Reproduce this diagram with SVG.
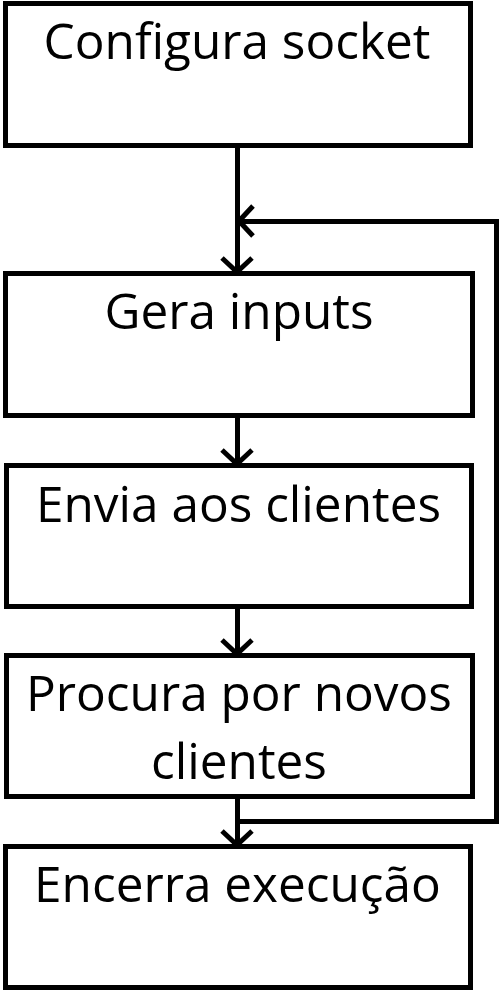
<svg xmlns="http://www.w3.org/2000/svg" width="499" height="992" viewBox="0 0 499 992">
<style>
.box{fill:#fff;stroke:#000;stroke-width:5;shape-rendering:crispEdges}
.lbl{font-family:"Open Sans","Noto Sans",sans-serif;font-size:49.5px;fill:#000;text-anchor:middle}
.edge{fill:none;stroke:#000;stroke-width:5;shape-rendering:crispEdges}
</style>
<defs>
<marker id="arr" viewBox="0 0 20 34" refX="18" refY="17" markerWidth="20" markerHeight="34" markerUnits="userSpaceOnUse" orient="auto">
<path d="M3,2 L17,17 L3,32" fill="none" stroke="#000" stroke-width="5"/>
</marker>
</defs>
<rect width="499" height="992" fill="#fff"/>
<g id="connectors">
<path class="edge" d="M237,145 V273" marker-end="url(#arr)"/>
<path class="edge" d="M237,415 V465" marker-end="url(#arr)"/>
<path class="edge" d="M237,606 V655" marker-end="url(#arr)"/>
<path class="edge" d="M237,796 V846" marker-end="url(#arr)"/>
<path class="edge" d="M237,821 H496 V221 H238" marker-end="url(#arr)"/>
</g>
<g id="n1"><rect class="box" x="5" y="3" width="465" height="142"/><text class="lbl" x="237" y="59">Configura socket</text></g>
<g id="n2"><rect class="box" x="5" y="273" width="467" height="142"/><text class="lbl" x="239" y="329">Gera inputs</text></g>
<g id="n3"><rect class="box" x="6" y="465" width="465" height="141"/><text class="lbl" x="238.5" y="522">Envia aos clientes</text></g>
<g id="n4"><rect class="box" x="6" y="655" width="466" height="141"/><text class="lbl" x="239" y="711">Procura por novos</text><text class="lbl" x="239" y="779">clientes</text></g>
<g id="n5"><rect class="box" x="5" y="846" width="465" height="141"/><text class="lbl" x="237.5" y="902">Encerra execução</text></g>
</svg>
